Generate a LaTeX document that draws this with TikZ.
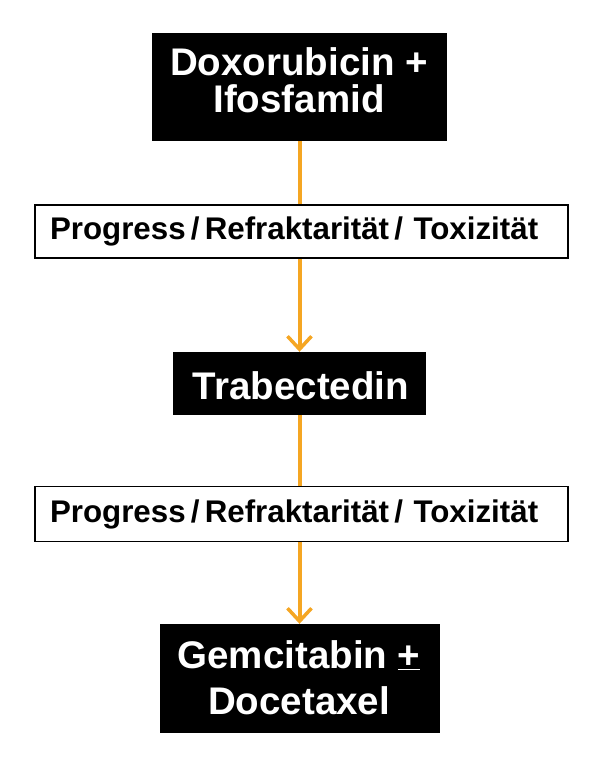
\documentclass[tikz,border=0pt]{standalone}
\usepackage{fontspec}
\setmainfont{Liberation Sans}
\usetikzlibrary{arrows.meta,backgrounds}
\definecolor{arrowor}{HTML}{F5A623}
\tikzset{
  drug/.style={fill=black, inner sep=0pt},
  drugtext/.style={text=white, inner sep=0pt, align=center,
    font=\bfseries\fontsize{38.5}{37}\selectfont},
  cond/.style={draw=black, line width=1.2pt, fill=white, inner xsep=15pt,
    inner ysep=0pt, minimum height=53pt, text width=503pt, align=left,
    font=\bfseries\fontsize{31.3}{32}\selectfont},
  flow/.style={draw=arrowor, line width=4pt,
    -{Straight Barb[length=13pt,width=24pt,line width=3.5pt]}},
}
\begin{document}
\begin{tikzpicture}[x=1pt,y=-1pt]
\useasboundingbox (0,0) rectangle (600,761);
\node[drug, minimum width=295pt, minimum height=108pt] (dox) at (299.5,87) {};
\node[drugtext] (doxt) at (299,80) {Doxorubicin +\\Ifosfamid};
\node[cond] (c1) at (301.5,231.5)
  {Progress\,/\,Refraktarität\,/ Toxizität};
\node[drug, minimum width=253pt, minimum height=63pt] (tra) at (299.5,383.5) {};
\node[drugtext] (trat) at (301,386) {Trabectedin};
\node[cond, minimum height=55pt] (c2) at (301.5,514)
  {Progress\,/\,Refraktarität\,/ Toxizität};
\node[drug, minimum width=280pt, minimum height=109pt] (gem) at (300,678.5) {};
\node[drugtext] (gemt) at (299,677.5) {Gemcitabin \underline{+}\\[9pt]Docetaxel};
\begin{scope}[on background layer]
\draw[flow] (dox.south) -- (dox.south |- tra.north);
\draw[flow] (tra.south) -- (tra.south |- gem.north);
\end{scope}
\end{tikzpicture}
\end{document}
